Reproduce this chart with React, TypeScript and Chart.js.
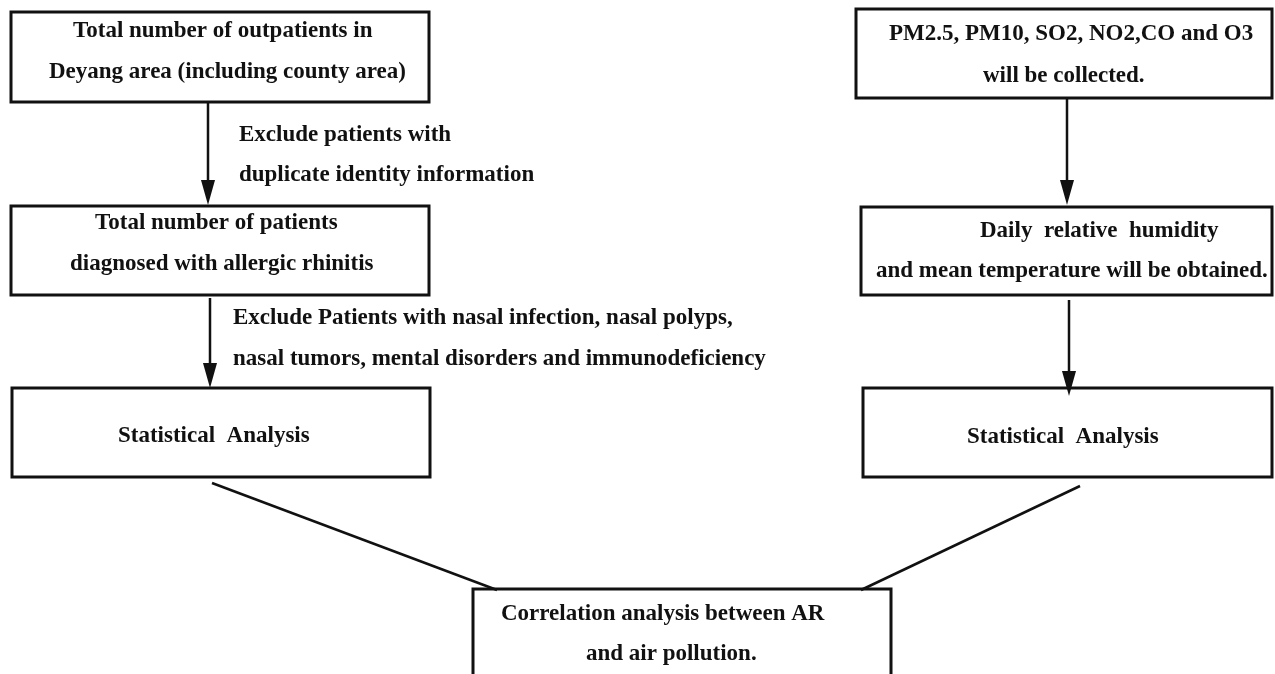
import { useEffect, useRef } from 'react';
import { Chart, registerables } from 'chart.js';

Chart.register(...registerables);

// Flowchart boxes (data space = page pixels, y downward)
const boxX0 = [11, 11, 12, 856, 861, 863, 473];
const boxY0 = [12, 206, 388, 9, 207, 388, 589];
const boxX1 = [429, 429, 430, 1272, 1272, 1272, 891];
const boxY1 = [102, 295, 477, 98, 295, 477, 700];

// Vertical arrows
const arrowX = [208, 210, 1067, 1069];
const arrowY0 = [102, 298, 98, 300];
const arrowY1 = [205, 388, 205, 396];

// Diagonal connectors
const connX0 = [212, 1080];
const connY0 = [483, 486];
const connX1 = [497, 861];
const connY1 = [590, 590];

// Text lines
const textLines = [
  'Total number of outpatients in',
  'Deyang area (including county area)',
  'Exclude patients with',
  'duplicate identity information',
  'Total number of patients',
  'diagnosed with allergic rhinitis',
  'Exclude Patients with nasal infection, nasal polyps,',
  'nasal tumors, mental disorders and immunodeficiency',
  'Statistical  Analysis',
  'PM2.5, PM10, SO2, NO2,CO and O3',
  'will be collected.',
  'Daily  relative  humidity',
  'and mean temperature will be obtained.',
  'Statistical  Analysis',
  'Correlation analysis between AR',
  'and air pollution.',
];
const textX = [73, 49, 239, 239, 95, 70, 233, 233, 118, 889, 983, 980, 876, 967, 501, 586];
const textY = [31, 72, 135, 175, 223, 264, 318, 359, 436, 34, 76, 231, 271, 437, 614, 654];

const INK = '#111111';
const FONT = 'bold 23px "Liberation Serif", "Times New Roman", serif';

export default function App() {
  const ref = useRef<HTMLCanvasElement | null>(null);

  useEffect(() => {
    document.body.style.margin = '0';
    const canvas = ref.current;
    if (!canvas) return;

    const boxSets = boxX0.map((x0, i) => ({
      data: [
        { x: x0, y: boxY0[i] },
        { x: boxX1[i], y: boxY0[i] },
        { x: boxX1[i], y: boxY1[i] },
        { x: x0, y: boxY1[i] },
        { x: x0, y: boxY0[i] },
      ],
      showLine: true,
      borderColor: INK,
      borderWidth: 3,
      pointRadius: 0,
      fill: false,
      tension: 0,
      borderJoinStyle: 'miter' as const,
      borderCapStyle: 'square' as const,
    }));

    const arrowSets = arrowX.map((x, i) => ({
      data: [
        { x, y: arrowY0[i] },
        { x, y: arrowY1[i] - 18 },
      ],
      showLine: true,
      borderColor: INK,
      borderWidth: 2.5,
      pointRadius: 0,
      fill: false,
    }));

    const connSets = connX0.map((x0, i) => ({
      data: [
        { x: x0, y: connY0[i] },
        { x: connX1[i], y: connY1[i] },
      ],
      showLine: true,
      borderColor: INK,
      borderWidth: 2.5,
      pointRadius: 0,
      fill: false,
    }));

    const overlay = {
      id: 'flowOverlay',
      afterDatasetsDraw(chart: any) {
        const { ctx, scales } = chart;
        const xs = scales.x;
        const ys = scales.y;
        ctx.save();
        ctx.fillStyle = INK;
        // arrow heads
        arrowX.forEach((x, i) => {
          const px = xs.getPixelForValue(x);
          const tip = ys.getPixelForValue(arrowY1[i]);
          const base = ys.getPixelForValue(arrowY1[i] - 25);
          ctx.beginPath();
          ctx.moveTo(px, tip);
          ctx.lineTo(px - 7, base);
          ctx.lineTo(px + 7, base);
          ctx.closePath();
          ctx.fill();
        });
        // texts
        ctx.font = FONT;
        ctx.textAlign = 'left';
        ctx.textBaseline = 'middle';
        textLines.forEach((t, i) => {
          ctx.fillText(t, xs.getPixelForValue(textX[i]), ys.getPixelForValue(textY[i]));
        });
        ctx.restore();
      },
    };

    const chart = new Chart(canvas, {
      type: 'scatter',
      data: { datasets: [...boxSets, ...arrowSets, ...connSets] as any },
      options: {
        animation: false,
        responsive: true,
        maintainAspectRatio: false,
        layout: { padding: 0 },
        plugins: { legend: { display: false }, tooltip: { enabled: false } },
        scales: {
          x: { type: 'linear', min: 0, max: 1275, display: false },
          y: { type: 'linear', min: 0, max: 674, reverse: true, display: false },
        },
      },
      plugins: [overlay],
    });

    return () => chart.destroy();
  }, []);

  return (
    <div
      style={{
        position: 'fixed',
        left: 0,
        top: 0,
        width: 1275,
        height: 674,
        background: '#ffffff',
      }}
    >
      <canvas ref={ref} />
    </div>
  );
}
